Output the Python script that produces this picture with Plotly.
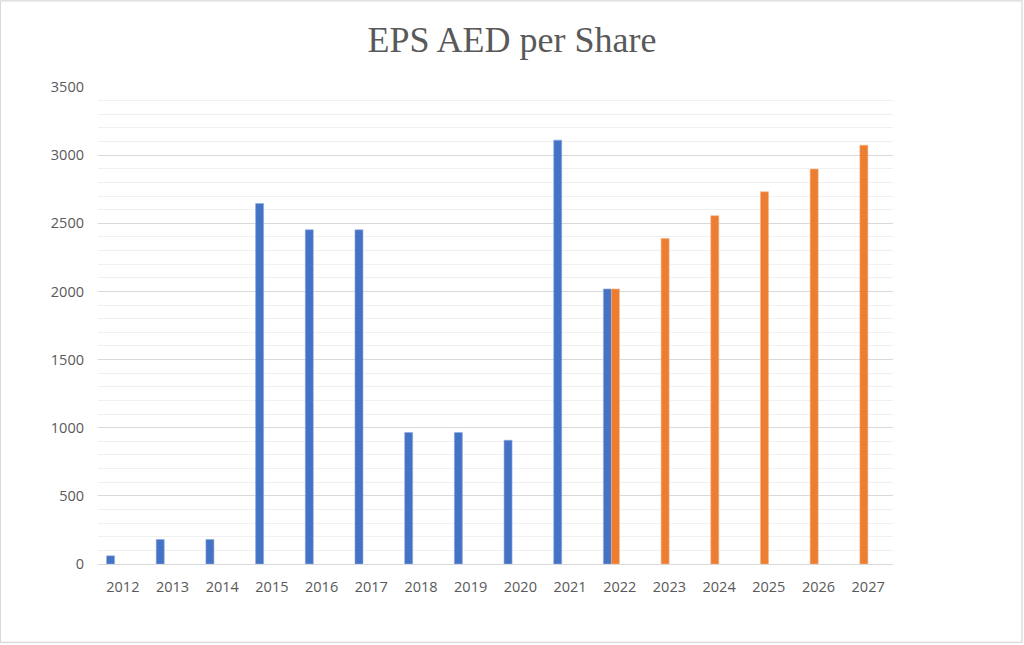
import plotly.graph_objects as go

years = ["2012", "2013", "2014", "2015", "2016", "2017", "2018", "2019",
         "2020", "2021", "2022", "2023", "2024", "2025", "2026", "2027"]
actual = [60, 180, 180, 2645, 2452, 2452, 965, 965, 908, 3110, 2018,
          None, None, None, None, None]
forecast = [None, None, None, None, None, None, None, None, None, None, 2018,
            2389, 2556, 2731, 2898, 3073]
y_ticks = [0, 500, 1000, 1500, 2000, 2500, 3000, 3500]

W, H = 1024, 645
L, R, T, B = 98.3, 893.3, 87, 564

fig = go.Figure()
fig.add_trace(go.Bar(x=years, y=actual, name="Actual",
                     marker=dict(color="#4472C4", line=dict(color="#8faadc", width=0.6)),
                     width=0.161, offset=-0.328))
fig.add_trace(go.Bar(x=years, y=forecast, name="Forecast",
                     marker=dict(color="#ED7D31", line=dict(color="#f4b183", width=0.6)),
                     width=0.161, offset=-0.167))

def px_x(p):
    return (p - L) / (R - L)

def px_y(p):
    return (B - p) / (B - T)

fig.add_shape(type="rect", xref="paper", yref="paper",
              x0=px_x(0.7), x1=px_x(1022.3), y0=px_y(642.3), y1=px_y(0.8),
              line=dict(color="#d9d9d9", width=1.3), fillcolor="rgba(0,0,0,0)", layer="below")

font_fam = "Open Sans, Lato, sans-serif"
fig.update_layout(
    width=W, height=H,
    margin=dict(l=L, r=W - R, t=T, b=H - B, pad=0),
    paper_bgcolor="white", plot_bgcolor="white",
    barmode="overlay",
    showlegend=False,
    title=dict(text="EPS AED per Share", x=0.5, xref="container", xanchor="center",
               y=1 - 39 / H, yref="container", yanchor="middle",
               font=dict(family="Liberation Serif, serif", size=36, color="#595959")),
    xaxis=dict(showline=True, linecolor="#d9d9d9", linewidth=1.3, showgrid=False,
               ticks="", tickfont=dict(family=font_fam, size=14.5, color="#595959"),
               ticklabelstandoff=9, fixedrange=True),
    yaxis=dict(range=[0, 3500], tickvals=y_ticks, ticktext=[str(v) for v in y_ticks],
               showgrid=True, gridcolor="#d9d9d9", gridwidth=1.3,
               minor=dict(dtick=100, tick0=0, showgrid=True, gridcolor="#f0f0f0", gridwidth=1.3),
               zeroline=False, showline=False, ticks="",
               tickfont=dict(family=font_fam, size=14.5, color="#595959"),
               ticklabelstandoff=13, fixedrange=True),
)

fig.write_html("out.html", config={"displayModeBar": False},
               post_script="document.body.style.margin='0';document.body.style.overflow='hidden';")
